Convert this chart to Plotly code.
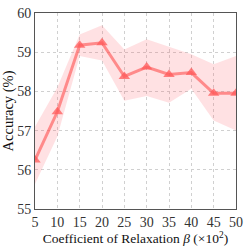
import plotly.graph_objects as go

beta = [5, 10, 15, 20, 25, 30, 35, 40, 45, 50]
acc_mean = [56.25, 57.48, 59.18, 59.24, 58.38, 58.62, 58.43, 58.48, 57.95, 57.95]
acc_upper = [57.1, 58.1, 59.45, 59.69, 59.07, 59.33, 59.14, 58.95, 58.69, 58.9]
acc_lower = [55.64, 56.85, 58.9, 58.79, 57.76, 57.88, 57.71, 58.07, 57.26, 57.0]

font = "Liberation Serif, DejaVu Serif, serif"

fig = go.Figure()
fig.add_trace(go.Scatter(x=beta, y=acc_upper, mode="lines", line=dict(width=0),
                         showlegend=False, hoverinfo="skip"))
fig.add_trace(go.Scatter(x=beta, y=acc_lower, mode="lines", line=dict(width=0),
                         fill="tonexty", fillcolor="rgba(255,80,90,0.17)",
                         showlegend=False, hoverinfo="skip"))
fig.add_trace(go.Scatter(x=beta, y=acc_mean, mode="lines+markers",
                         line=dict(color="rgba(255,90,90,0.65)", width=3),
                         marker=dict(symbol="triangle-up", size=10,
                                     color="rgba(255,90,90,0.75)"),
                         showlegend=False))

axis_common = dict(showline=True, linecolor="#555", linewidth=1, mirror=True,
                   showgrid=True, gridcolor="#d0d0d0", griddash="dot", gridwidth=1,
                   ticks="", zeroline=False, ticklabeloverflow="allow",
                   tickfont=dict(family=font, size=14, color="#333"))
fig.update_xaxes(range=[5, 50], tickvals=beta, ticktext=[str(b) for b in beta],
                 title=dict(text="Coefficient of Relaxation <i>β</i> (×10<sup>2</sup>)",
                            font=dict(family=font, size=13.5, color="#111"), standoff=2),
                 **axis_common)
fig.update_yaxes(range=[55, 60], tickvals=[55, 56, 57, 58, 59, 60],
                 title=dict(text="Accuracy (%)", font=dict(family=font, size=14.5, color="#111"),
                            standoff=1),
                 **axis_common)
fig.update_layout(width=249, height=247, margin=dict(l=31, r=7, t=6, b=32),
                  plot_bgcolor="white", paper_bgcolor="white")
fig.write_html("out.html", config={"displayModeBar": False},
               post_script="document.body.style.margin='0';document.body.style.overflow='hidden';")
